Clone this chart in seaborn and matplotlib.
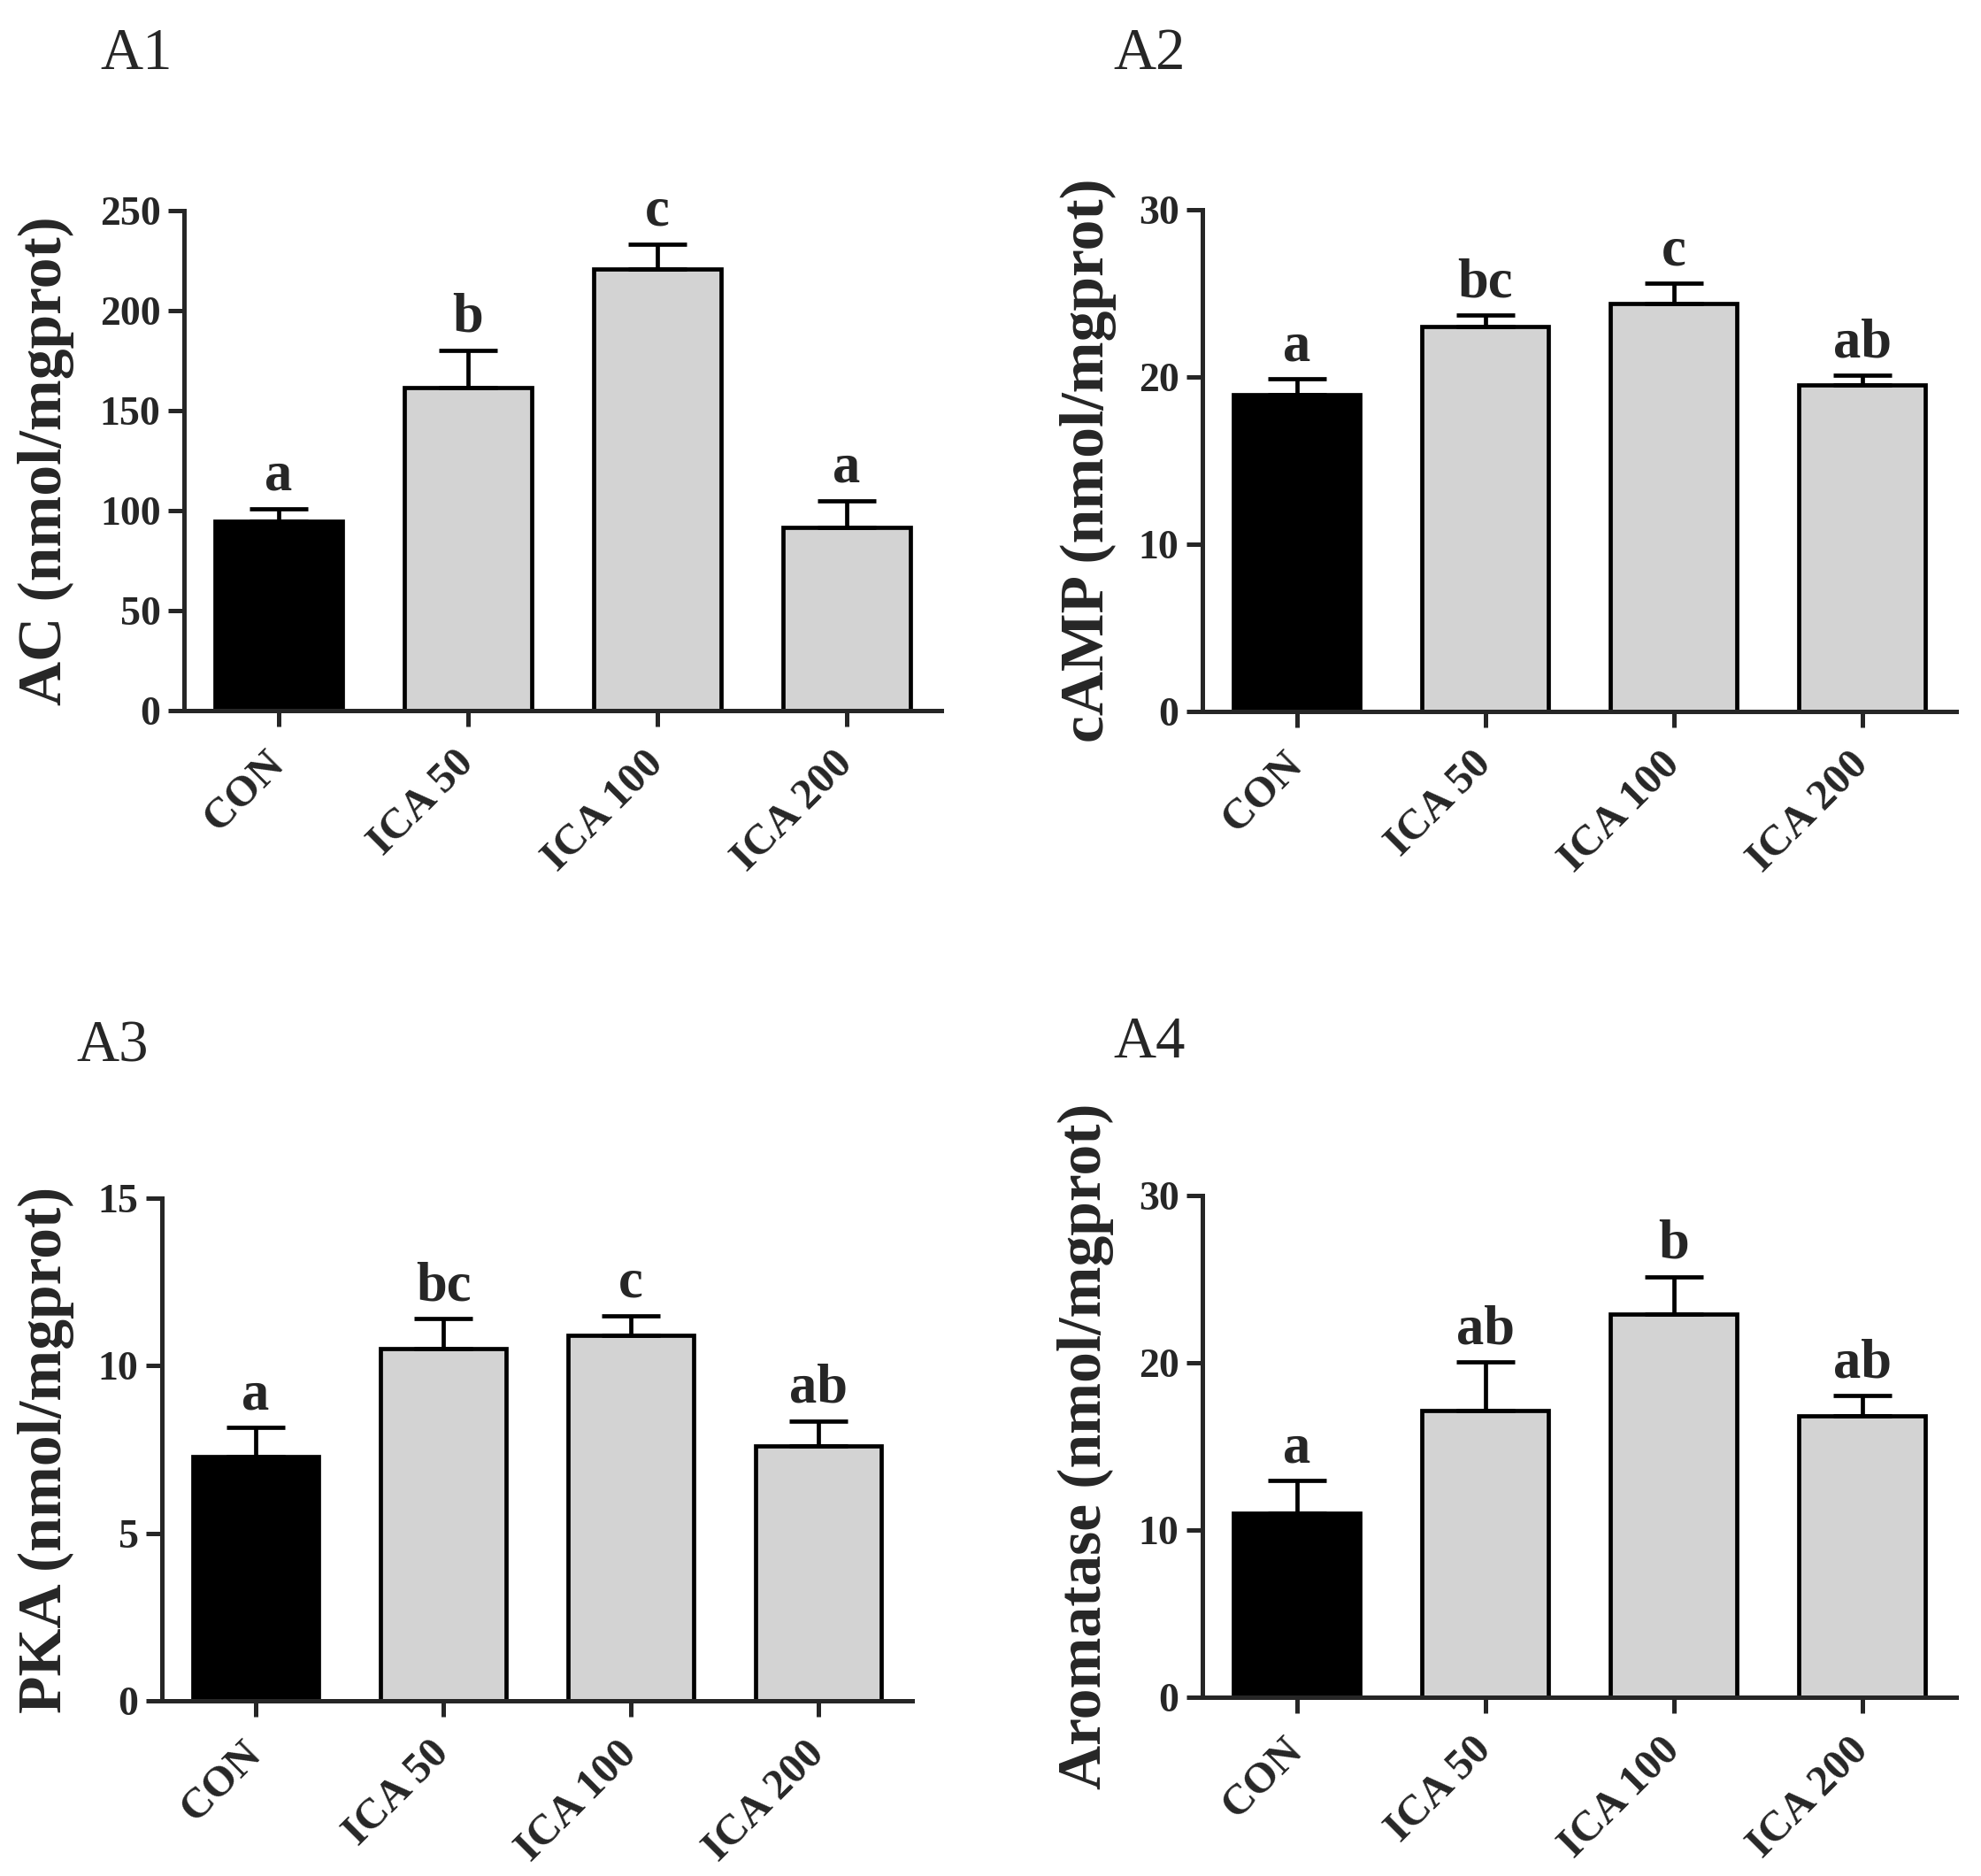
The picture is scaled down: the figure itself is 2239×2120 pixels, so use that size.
import matplotlib
matplotlib.use("Agg")
import matplotlib.pyplot as plt
import matplotlib.transforms as mtransforms
import seaborn as sns
import pandas as pd

# ---------------- data ----------------
groups = ["CON", "ICA 50", "ICA 100", "ICA 200"]

ac_mean = [94.5, 161.5, 220.7, 91.5]
ac_err = [6.5, 18.8, 12.6, 13.5]
ac_sig = ["a", "b", "c", "a"]

camp_mean = [18.95, 23.0, 24.4, 19.5]
camp_err = [0.95, 0.7, 1.2, 0.6]
camp_sig = ["a", "bc", "c", "ab"]

pka_mean = [7.3, 10.5, 10.9, 7.6]
pka_err = [0.85, 0.9, 0.6, 0.75]
pka_sig = ["a", "bc", "c", "ab"]

aro_mean = [11.0, 17.15, 22.9, 16.8]
aro_err = [1.95, 2.9, 2.25, 1.25]
aro_sig = ["a", "ab", "b", "ab"]

panel_titles = ["A1", "A2", "A3", "A4"]
ylabels = ["AC (nmol/mgprot)", "cAMP (nmol/mgprot)",
           "PKA (nmol/mgprot)", "Aromatase (nmol/mgprot)"]
yticks_list = [[0, 50, 100, 150, 200, 250], [0, 10, 20, 30],
               [0, 5, 10, 15], [0, 10, 20, 30]]

bar_colors = ["#000000", "#d3d3d3", "#d3d3d3", "#d3d3d3"]

# ---------------- style ----------------
sns.set_style("ticks")
plt.rcParams["font.family"] = ["Liberation Serif", "DejaVu Serif"]

W, H = 2239, 2120
fig = plt.figure(figsize=(W / 100, H / 100), dpi=100)

# axes rectangles in pixels: left, right, bottom(y px of 0), top(y px of max)
rects_px = [
    (208, 1064, 803, 238),
    (1359, 2211, 804, 237),
    (183, 1031, 1922, 1354),
    (1359, 2211, 1918, 1351),
]
label_x = [-0.145, -0.114, -0.117, -0.117]
title_px = [(113, 78), (1258, 78), (86, 1200), (1258, 1195)]

means = [ac_mean, camp_mean, pka_mean, aro_mean]
errs = [ac_err, camp_err, pka_err, aro_err]
sigs = [ac_sig, camp_sig, pka_sig, aro_sig]

LW = 3.4
for i in range(4):
    l, r, b, t = rects_px[i]
    ax = fig.add_axes([l / W, 1 - b / H, (r - l) / W, (b - t) / H])
    df = pd.DataFrame({"group": groups, "value": means[i]})
    sns.barplot(data=df, x="group", y="value", hue="group", order=groups,
                hue_order=groups, palette=bar_colors, legend=False,
                edgecolor="black", linewidth=LW, width=0.67, ax=ax,
                errorbar=None, saturation=1)
    xs = list(range(len(groups)))
    ax.errorbar(xs, means[i], yerr=[[0] * 4, errs[i]], fmt="none",
                ecolor="black", elinewidth=LW, capsize=24, capthick=LW,
                zorder=1)
    for x, m, e, s in zip(xs, means[i], errs[i], sigs[i]):
        ax.annotate(s, xy=(x, m + e), xytext=(0, 15),
                    textcoords="offset points", ha="center", va="baseline",
                    fontsize=45, fontweight="bold", annotation_clip=False)
    yt = yticks_list[i]
    ax.set_ylim(0, yt[-1])
    ax.set_xlim(-0.5, 3.5)
    ax.set_yticks(yt)
    ax.set_yticklabels([str(v) for v in yt], fontsize=33, fontweight="bold")
    ax.set_xticks(xs)
    ax.set_xticklabels(groups, fontsize=35, fontweight="bold", rotation=45,
                       ha="right", va="center", rotation_mode="anchor")
    shift = mtransforms.ScaledTranslation(6 / 72, 0, fig.dpi_scale_trans)
    for lab in ax.get_xticklabels():
        lab.set_transform(lab.get_transform() + shift)
    ax.set_xlabel("")
    ax.set_ylabel(ylabels[i], fontsize=50, fontweight="bold")
    ax.yaxis.set_label_coords(label_x[i], 0.5)
    sns.despine(ax=ax)
    for sp in ["left", "bottom"]:
        ax.spines[sp].set_linewidth(3.6)
    ax.tick_params(axis="both", width=3.6, length=13, direction="out")
    ax.tick_params(axis="y", pad=6)
    ax.tick_params(axis="x", pad=25)
    tx, ty = title_px[i]
    fig.text(tx / W, 1 - ty / H, panel_titles[i], fontsize=48,
             ha="left", va="baseline")

fig.savefig("out.png", dpi=100, facecolor="white")
